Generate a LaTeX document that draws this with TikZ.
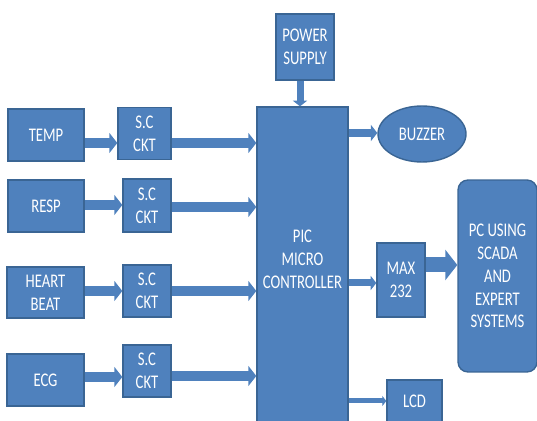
\documentclass[tikz,border=0pt]{standalone}
\usepackage{fontspec}
\setmainfont{Carlito}[FakeStretch=0.76]
\usetikzlibrary{positioning,arrows.meta,shapes.geometric}
\usepackage{xcolor}
\definecolor{boxblue}{HTML}{4F81BD}
\definecolor{edgeblue}{HTML}{3A6594}

\begin{document}
\begin{tikzpicture}[x=0.02cm, y=-0.02cm,
    every node/.style={font=\fontsize{11}{13}\selectfont, text=white, align=center, inner sep=0pt},
    blockbox/.style={rectangle, draw=edgeblue, fill=boxblue, line width=0.8pt},
    roundbox/.style={blockbox, rounded corners=0.2cm},
    flow/.style={draw=boxblue, line width=#1, -{Triangle[length=0pt 0.8, width=0pt 2]}},
    flow/.default=0.2cm]
    \useasboundingbox (0,0) rectangle (537,421);
    \clip (0,0) rectangle (537,421);

    % Blocks

    \node[blockbox, minimum width=1.52cm, minimum height=1.04cm] (temp) at (46,135) {TEMP};
    \node[blockbox, minimum width=1.06cm, minimum height=1.04cm] (sc1) at (144.5,133.5) {S.C\\CKT};
    \node[blockbox, minimum width=1.52cm, minimum height=1.04cm] (resp) at (46,206) {RESP};
    \node[blockbox, minimum width=0.96cm, minimum height=1.06cm] (sc2) at (147,205.5) {S.C\\CKT};
    \node[blockbox, minimum width=1.54cm, minimum height=1.02cm] (heart) at (45.5,292.5) {HEART\\BEAT};
    \node[blockbox, minimum width=0.96cm, minimum height=1.04cm] (sc3) at (147,291) {S.C\\CKT};
    \node[blockbox, minimum width=1.54cm, minimum height=1.04cm] (ecg) at (45.5,380) {ECG};
    \node[blockbox, minimum width=0.96cm, minimum height=1.04cm] (sc4) at (147,371) {S.C\\CKT};
    \node[blockbox, minimum width=1.16cm, minimum height=1.32cm] (power) at (305,47) {POWER\\SUPPLY};
    \node[blockbox, minimum width=1.82cm, minimum height=6.6cm,
          label={[yshift=0.26cm]center:PIC\\MICRO\\CONTROLLER}] (pic) at (302.5,272) {};
    \node[ellipse, draw=edgeblue, fill=boxblue, line width=0.8pt,
          minimum width=1.76cm, minimum height=1.12cm] (buzzer) at (422,134) {BUZZER};
    \node[blockbox, minimum width=0.96cm, minimum height=1.48cm] (max) at (401,280) {MAX\\232};
    \node[roundbox, minimum width=1.58cm, minimum height=3.84cm] (pc) at (497.5,276)
          {PC USING\\SCADA\\AND\\EXPERT\\SYSTEMS};
    \node[blockbox, minimum width=1.1cm, minimum height=0.84cm] (lcd) at (414.5,401) {LCD};

    % Arrows

    \draw[flow] (temp.east |- 0,143) -- (sc1.west |- 0,143);
    \draw[flow] (sc1.east |- 0,143) -- (pic.west |- 0,143);
    \draw[flow] (resp.east |- 0,205) -- (sc2.west |- 0,205);
    \draw[flow] (sc2.east |- 0,207) -- (pic.west |- 0,207);
    \draw[flow] (heart.east |- 0,291) -- (sc3.west |- 0,291);
    \draw[flow] (sc3.east |- 0,291) -- (pic.west |- 0,291);
    \draw[flow] (ecg.east |- 0,377) -- (sc4.west |- 0,377);
    \draw[flow] (sc4.east |- 0,376) -- (pic.west |- 0,376);
    \draw[flow=0.14cm] (power.south -| 300,0) -- (pic.north -| 300,0);
    \draw[flow=0.16cm] (pic.east |- 0,133) -- (buzzer.west |- 0,133);
    \draw[flow=0.14cm] (pic.east |- 0,283) -- (max.west |- 0,283);
    \draw[flow=0.3cm] (max.east |- 0,265) -- (pc.west |- 0,265);
    \draw[flow=0.1cm] (pic.east |- 0,401) -- (lcd.west |- 0,401);

\end{tikzpicture}
\end{document}
